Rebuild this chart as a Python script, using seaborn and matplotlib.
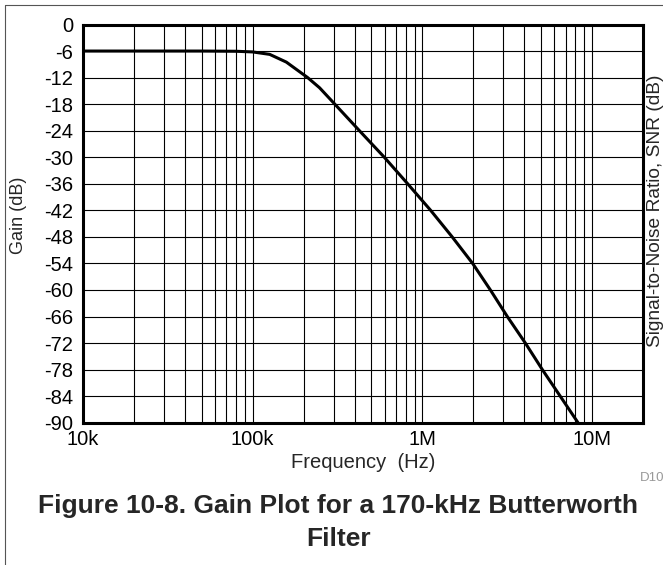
import numpy as np
import pandas as pd
import matplotlib
matplotlib.use("Agg")
import matplotlib.pyplot as plt
from matplotlib.ticker import FixedLocator, FixedFormatter, NullFormatter
from matplotlib.lines import Line2D
import seaborn as sns

# Gain response of the 170-kHz Butterworth low-pass filter
freq_hz = [1e4, 5e4, 8e4, 1e5, 1.26e5, 1.58e5, 2.11e5, 2.48e5, 3.05e5, 4.26e5,
           5.97e5, 8.2e5, 1.12e6, 1.50e6, 1.98e6, 2.52e6, 3.17e6, 4.05e6, 5.1e6,
           6.5e6, 8.28e6]
gain_db = [-6.0, -6.0, -6.05, -6.2, -6.75, -8.5, -12.0, -14.3, -18.0, -24.0,
           -30.0, -36.0, -42.0, -48.0, -54.0, -60.0, -66.0, -72.0, -78.0,
           -84.0, -90.0]

x_tick_values = [1e4, 1e5, 1e6, 1e7]
x_tick_labels = ["10k", "100k", "1M", "10M"]
y_tick_values = list(range(0, -91, -6))
y_tick_labels = [str(v) for v in y_tick_values]

df = pd.DataFrame({"Frequency": freq_hz, "Gain": gain_db})

sns.set_style("white")
plt.rcParams["font.family"] = ["Liberation Sans", "DejaVu Sans"]

W, H = 663, 565
fig = plt.figure(figsize=(W / 100, H / 100), dpi=100)
ax = fig.add_axes([83 / W, 1 - 422.7 / H, (643 - 83) / W, (422.7 - 24.5) / H])

sns.lineplot(data=df, x="Frequency", y="Gain", ax=ax, color="black",
             linewidth=2.2, zorder=5)

ax.set_xscale("log")
ax.set_xlim(1e4, 2e7)
ax.set_ylim(-90, 0)

# grid: decades plus 2..9 multiples up to 10 MHz
minor_pos = [m * 10 ** d for d in range(4, 7) for m in range(2, 10)]
ax.xaxis.set_major_locator(FixedLocator(x_tick_values))
ax.xaxis.set_major_formatter(FixedFormatter(x_tick_labels))
ax.xaxis.set_minor_locator(FixedLocator(minor_pos))
ax.xaxis.set_minor_formatter(NullFormatter())
ax.yaxis.set_major_locator(FixedLocator(y_tick_values))
ax.yaxis.set_major_formatter(FixedFormatter(y_tick_labels))

ax.grid(True, which="both", axis="x", color="black", linewidth=0.8)
ax.grid(True, which="major", axis="y", color="black", linewidth=0.8)
ax.tick_params(axis="both", which="both", length=0, labelsize=14.5, colors="black")
ax.tick_params(axis="y", pad=7)
ax.tick_params(axis="x", pad=5)

for sp in ax.spines.values():
    sp.set_visible(True)
    sp.set_color("black")
    sp.set_linewidth(2.2)
    sp.set_zorder(6)

ax.set_xlabel("Frequency  (Hz)", fontsize=14.5, labelpad=3)
ax.set_ylabel("Gain (dB)", fontsize=13, ha="center", va="center")
ax.yaxis.set_label_coords(-0.116, 0.52)

fig.text(655 / W, 1 - 211 / H, "Signal-to-Noise Ratio, SNR (dB)", rotation=90,
         ha="center", va="center", fontsize=13.8)
fig.text(640 / W, 1 - 478 / H, "D10", ha="left", va="center",
         fontsize=9.5, color="#999999")

fig.text(0.51, 1 - 506 / H, "Figure 10-8. Gain Plot for a 170-kHz Butterworth",
         ha="center", va="center", fontsize=19, fontweight="bold")
fig.text(0.51, 1 - 539 / H, "Filter", ha="center", va="center",
         fontsize=19, fontweight="bold")

# page frame
x0, yt = 5 / W, 1 - 5 / H
fig.add_artist(Line2D([x0, x0], [0, yt], color="#555555", linewidth=0.8))
fig.add_artist(Line2D([x0, 1], [yt, yt], color="#555555", linewidth=0.8))

fig.savefig("out.png", dpi=100)
